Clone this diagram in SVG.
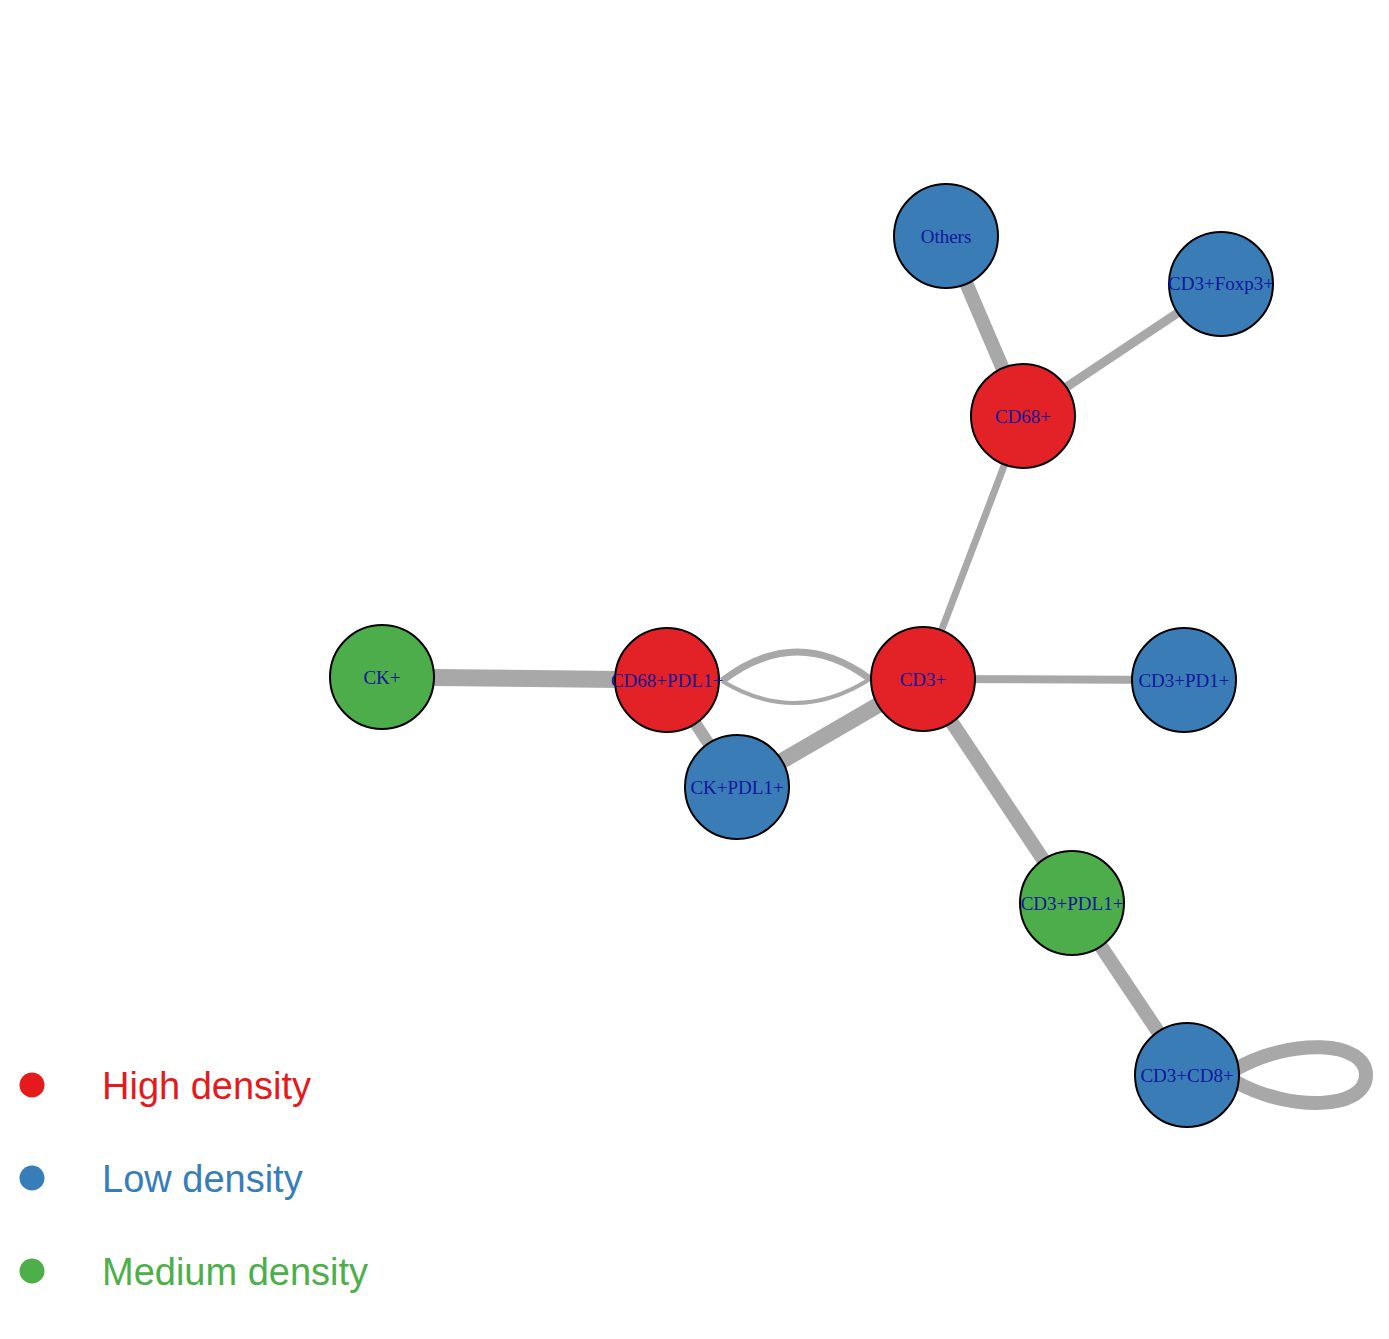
<svg xmlns="http://www.w3.org/2000/svg" width="1389" height="1339" viewBox="0 0 1389 1339">
<style>
.e{stroke:#A8A8A8;fill:none;stroke-linecap:butt}
.n{stroke:#000;stroke-width:2}
.hi{fill:#E32228}
.lo{fill:#3A7DB6}
.md{fill:#4EAD4B}
.lbl{font-family:"Liberation Serif","Times New Roman",serif;font-size:19px;fill:#10169A;text-anchor:middle}
.leg{font-family:"Liberation Sans",Arial,sans-serif;font-size:38px}
</style>
<rect width="1389" height="1339" fill="#fff"/>
<g id="edges">
<line class="e" x1="946" y1="236" x2="1023" y2="416" stroke-width="14"/>
<line class="e" x1="1221" y1="284" x2="1023" y2="416" stroke-width="9"/>
<line class="e" x1="1023" y1="416" x2="923" y2="679" stroke-width="7"/>
<line class="e" x1="382" y1="677" x2="667" y2="680" stroke-width="17"/>
<line class="e" x1="667" y1="680" x2="737" y2="787" stroke-width="12"/>
<line class="e" x1="737" y1="787" x2="923" y2="679" stroke-width="16"/>
<line class="e" x1="923" y1="679" x2="1184" y2="680" stroke-width="8"/>
<line class="e" x1="923" y1="679" x2="1072" y2="903" stroke-width="14"/>
<line class="e" x1="1072" y1="903" x2="1187" y2="1075" stroke-width="14"/>
<path class="e" d="M722,681 Q796,624 870,679" stroke-width="7"/>
<path class="e" d="M722,681 Q796,726 870,679" stroke-width="4"/>
<path class="e" d="M1236,1069 C1290,1038 1366,1040 1366,1075 C1366,1110 1290,1112 1236,1082" stroke-width="14"/>
</g>
<g id="node-others"><circle class="n lo" cx="946" cy="236" r="52"/><text class="lbl" x="946" y="243">Others</text></g>
<g id="node-cd3foxp3"><circle class="n lo" cx="1221" cy="284" r="52"/><text class="lbl" x="1221" y="290">CD3+Foxp3+</text></g>
<g id="node-cd68"><circle class="n hi" cx="1023" cy="416" r="52"/><text class="lbl" x="1023" y="423">CD68+</text></g>
<g id="node-ck"><circle class="n md" cx="382" cy="677" r="52"/><text class="lbl" x="382" y="684">CK+</text></g>
<g id="node-cd68pdl1"><circle class="n hi" cx="667" cy="680" r="52"/><text class="lbl" x="667" y="687">CD68+PDL1+</text></g>
<g id="node-cd3"><circle class="n hi" cx="923" cy="679" r="52"/><text class="lbl" x="923" y="686">CD3+</text></g>
<g id="node-cd3pd1"><circle class="n lo" cx="1184" cy="680" r="52"/><text class="lbl" x="1184" y="687">CD3+PD1+</text></g>
<g id="node-ckpdl1"><circle class="n lo" cx="737" cy="787" r="52"/><text class="lbl" x="737" y="794">CK+PDL1+</text></g>
<g id="node-cd3pdl1"><circle class="n md" cx="1072" cy="903" r="52"/><text class="lbl" x="1072" y="910">CD3+PDL1+</text></g>
<g id="node-cd3cd8"><circle class="n lo" cx="1187" cy="1075" r="52"/><text class="lbl" x="1187" y="1082">CD3+CD8+</text></g>
<g id="legend">
<circle cx="32" cy="1085" r="12.5" fill="#E41A1C"/>
<circle cx="32" cy="1178" r="12.5" fill="#377EB8"/>
<circle cx="32" cy="1271" r="12.5" fill="#4DAF4A"/>
<text class="leg" x="102" y="1099" fill="#E41A1C">High density</text>
<text class="leg" x="102" y="1192" fill="#377EB8">Low density</text>
<text class="leg" x="102" y="1285" fill="#4DAF4A">Medium density</text>
</g>
</svg>
